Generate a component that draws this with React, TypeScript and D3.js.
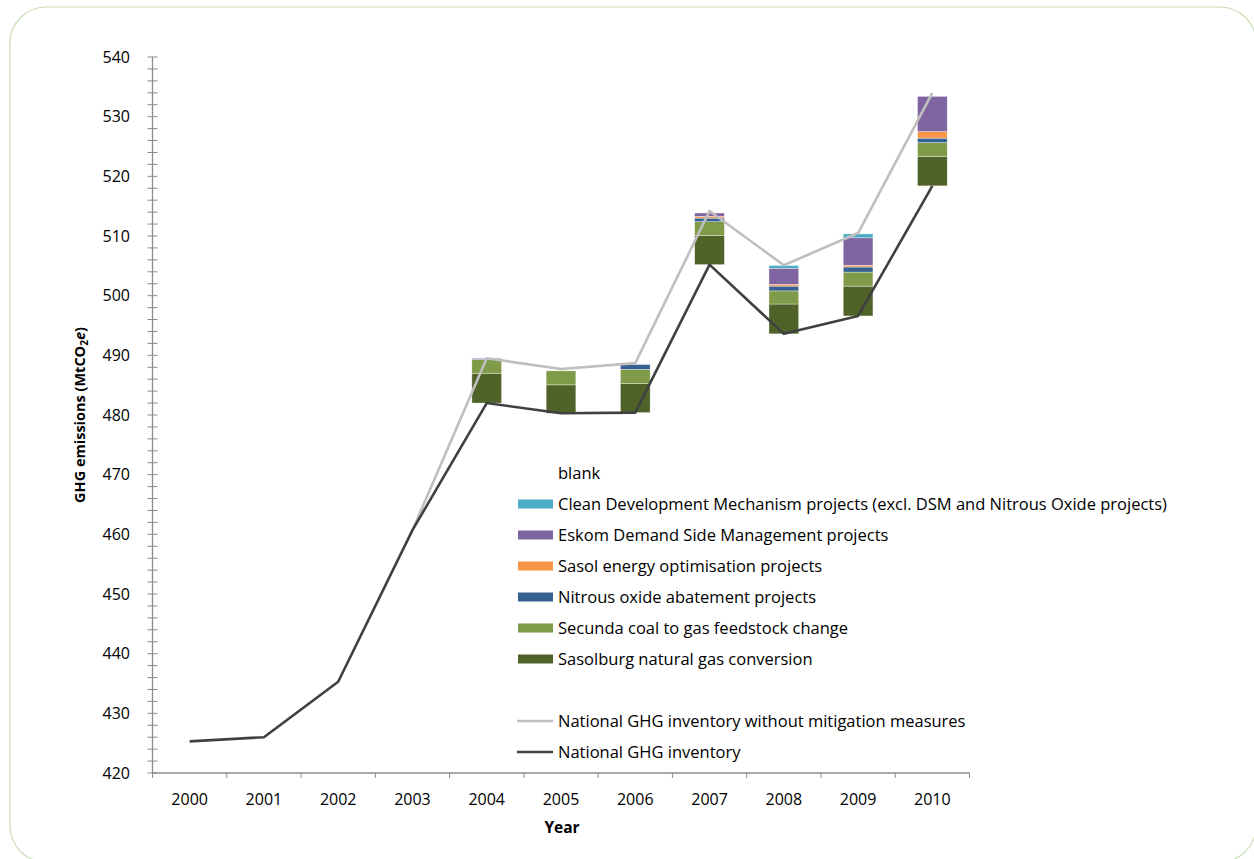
import React from 'react';
import * as d3 from 'd3';

const years = [2000, 2001, 2002, 2003, 2004, 2005, 2006, 2007, 2008, 2009, 2010];
const yTicks = [420, 430, 440, 450, 460, 470, 480, 490, 500, 510, 520, 530, 540];
const nationalInventory = [425.3, 426.0, 435.3, 460.7, 482.0, 480.3, 480.4, 505.2, 493.6, 496.6, 518.4];
const withoutMitigation = [null, null, null, 460.7, 489.5, 487.7, 488.7, 514.2, 505.1, 510.5, 534.0];

const barYears = [2004, 2005, 2006, 2007, 2008, 2009, 2010];
const sasolburg = [5.0, 4.75, 4.85, 4.9, 5.0, 5.0, 4.9];
const secunda = [2.3, 2.35, 2.4, 2.3, 2.2, 2.35, 2.35];
const nitrous = [0, 0, 0.8, 0.6, 0.8, 0.85, 0.75];
const sasolEnergy = [0, 0, 0, 0.3, 0.3, 0.3, 1.1];
const eskomDSM = [0.2, 0, 0, 0.55, 2.7, 4.6, 5.9];
const cdm = [0, 0, 0, 0, 0.45, 0.65, 0];

const seriesDefs = [
  { name: 'Sasolburg natural gas conversion', values: sasolburg, color: '#4F6228' },
  { name: 'Secunda coal to gas feedstock change', values: secunda, color: '#7F9A48' },
  { name: 'Nitrous oxide abatement projects', values: nitrous, color: '#376092' },
  { name: 'Sasol energy optimisation projects', values: sasolEnergy, color: '#F79646' },
  { name: 'Eskom Demand Side Management projects', values: eskomDSM, color: '#8064A2' },
  { name: 'Clean Development Mechanism projects (excl. DSM and Nitrous Oxide projects)', values: cdm, color: '#4BACC6' },
];

const FONT = '"Open Sans", sans-serif';

export default function App() {
  const x = d3.scaleBand<number>().domain(years).range([152.5, 969.5]).padding(0);
  const y = d3.scaleLinear().domain([420, 540]).range([773, 57]);
  const bw = x.bandwidth() * 0.4;
  const cx = (yr: number) => (x(yr) as number) + x.bandwidth() / 2;

  const minorTicks = d3.range(420, 541, 2);

  const lineGen = d3
    .line<[number, number | null]>()
    .defined((d) => d[1] !== null)
    .x((d) => cx(d[0]))
    .y((d) => y(d[1] as number));

  const darkPts = years.map((yr, i) => [yr, nationalInventory[i]] as [number, number | null]);
  const lightPts = years.map((yr, i) => [yr, withoutMitigation[i]] as [number, number | null]);

  const segs: { x: number; y0: number; y1: number; color: string }[] = [];
  barYears.forEach((yr, bi) => {
    let base = nationalInventory[years.indexOf(yr)];
    seriesDefs.forEach((s) => {
      const v = s.values[bi];
      if (v > 0) {
        segs.push({ x: cx(yr) - bw / 2, y0: base, y1: base + v, color: s.color });
        base += v;
      }
    });
  });

  const legendItems = [
    { name: 'blank', type: 'none', color: '' },
    ...seriesDefs.slice().reverse().map((s) => ({ name: s.name, type: 'rect', color: s.color })),
    { name: '', type: 'gap', color: '' },
    { name: 'National GHG inventory without mitigation measures', type: 'line', color: '#BFBFBF' },
    { name: 'National GHG inventory', type: 'line', color: '#404040' },
  ];

  return (
    <svg width={1254} height={859} style={{ position: 'absolute', left: 0, top: 0, background: '#fff' }}>
      <rect x={10} y={7} width={1246} height={855} rx={36} ry={36} fill="#fff" stroke="#C9DDB6" strokeWidth={1.2} />

      <line x1={152.5} x2={152.5} y1={y(540)} y2={y(420)} stroke="#8C8C8C" strokeWidth={1.3} />
      {minorTicks.map((t) => (
        <line key={t} x1={147.5} x2={157.5} y1={y(t)} y2={y(t)} stroke="#8C8C8C" strokeWidth={1} />
      ))}
      {yTicks.map((t) => (
        <text key={t} x={130} y={y(t)} dy="0.35em" textAnchor="end" fontFamily={FONT} fontSize={16} fill="#000">
          {t}
        </text>
      ))}

      <line x1={152.5} x2={970} y1={773} y2={773} stroke="#8C8C8C" strokeWidth={1.3} />
      {years.map((yr) => (
        <line key={'t' + yr} x1={x(yr) as number} x2={x(yr) as number} y1={773} y2={778} stroke="#8C8C8C" strokeWidth={1} />
      ))}
      <line x1={969.5} x2={969.5} y1={773} y2={778} stroke="#8C8C8C" strokeWidth={1} />
      {years.map((yr) => (
        <text key={'l' + yr} x={cx(yr)} y={799} dy="0.35em" textAnchor="middle" fontFamily={FONT} fontSize={16} fill="#000">
          {yr}
        </text>
      ))}

      {segs.map((s, i) => (
        <rect
          key={i}
          x={s.x}
          y={y(s.y1)}
          width={bw}
          height={y(s.y0) - y(s.y1)}
          fill={s.color}
          stroke="#ffffff"
          strokeOpacity={0.6}
          strokeWidth={0.6}
        />
      ))}

      <path d={lineGen(lightPts) || ''} fill="none" stroke="#BFBFBF" strokeWidth={2.6} strokeLinejoin="round" />
      <path d={lineGen(darkPts) || ''} fill="none" stroke="#404040" strokeWidth={2.6} strokeLinejoin="round" />

      <text
        transform={`translate(85,415) rotate(-90)`}
        textAnchor="middle"
        fontFamily={FONT}
        fontWeight="bold"
        fontSize={14.5}
        fill="#000"
      >
        GHG emissions (MtCO<tspan fontSize={10} dy={3}>2</tspan>
        <tspan dy={-3} fontStyle="italic">e</tspan>)
      </text>
      <text x={562} y={828} dy="0.35em" textAnchor="middle" fontFamily={FONT} fontWeight="bold" fontSize={15.5} fill="#000">
        Year
      </text>

      {legendItems.map((it, i) => {
        const yy = 473 + i * 31;
        if (it.type === 'gap') return null;
        return (
          <g key={i}>
            {it.type === 'rect' && <rect x={518} y={yy - 4.5} width={35} height={9} fill={it.color} />}
            {it.type === 'line' && <line x1={517} x2={553} y1={yy} y2={yy} stroke={it.color} strokeWidth={2.6} />}
            <text x={558} y={yy} dy="0.35em" fontFamily={FONT} fontSize={16.5} fill="#000">
              {it.name}
            </text>
          </g>
        );
      })}
    </svg>
  );
}
